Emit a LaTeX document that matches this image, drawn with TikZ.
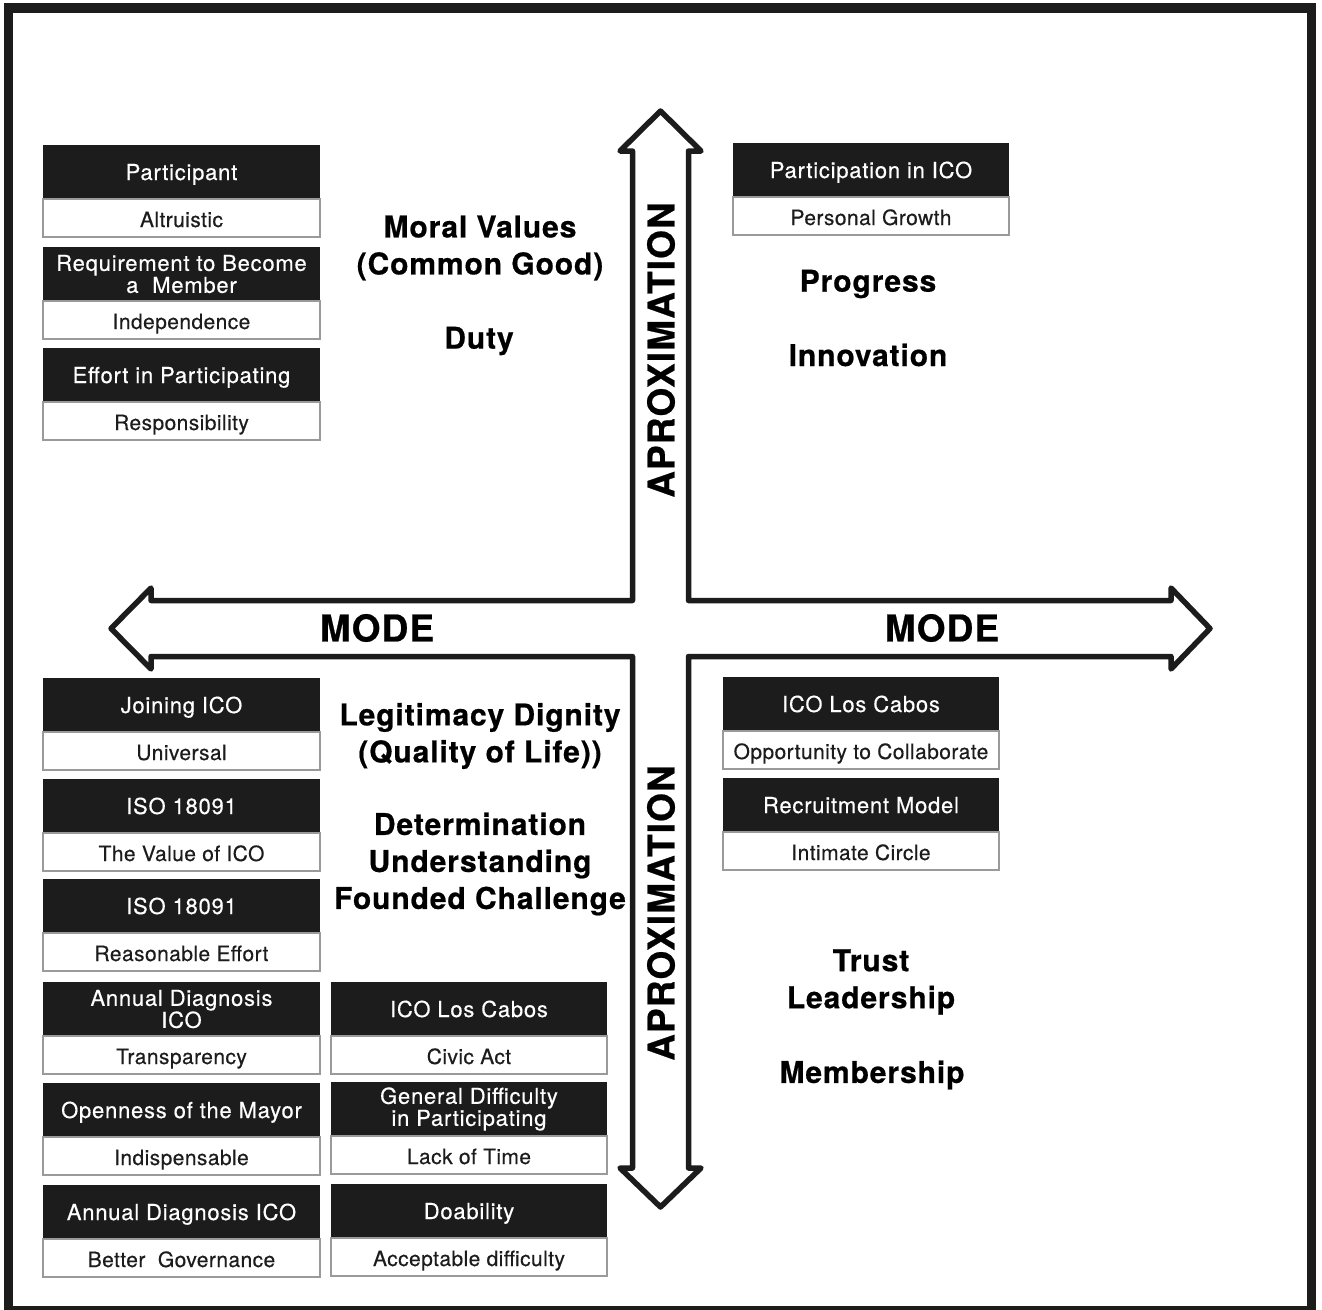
\documentclass[tikz,border=0pt]{standalone}
\usepackage{fontspec}
\setmainfont{TeX Gyre Heros}
\newfontfamily\bxfont[LetterSpace=2, FakeBold=0.4]{TeX Gyre Heros}
\newfontfamily\hdfont[LetterSpace=3.5, FakeBold=0.4]{TeX Gyre Heros}
\newfontfamily\lbfont[LetterSpace=3, FakeBold=0.6]{TeX Gyre Heros}
\definecolor{ink}{HTML}{1C1C1C}
\definecolor{edge}{HTML}{9A9A9A}
\tikzset{
  hdr/.style={fill=ink, draw=none, text=white, minimum height=54pt, inner sep=0pt, outer sep=0pt,
    align=center, font=\hdfont\fontsize{22}{22}\selectfont},
  hdrone/.style={hdr, text height=16pt, text depth=0pt},
  bodybox/.style={fill=white, draw=edge, line width=1.2pt, text=ink, minimum height=38pt,
    inner sep=0pt, outer sep=0pt, text height=18pt, text depth=0pt,
    font=\bxfont\fontsize{21}{22}\selectfont},
  lab/.style={text=black, align=center, inner sep=0pt, font=\lbfont\bfseries\fontsize{30}{37}\selectfont},
  axislab/.style={text=black, inner sep=0pt, font=\lbfont\bfseries\fontsize{37}{40}\selectfont},
  crossline/.style={draw=ink, line width=5.5pt, line join=round},
  frameline/.style={draw=ink, line width=9.5pt},
}
% [header style] name, x-left, y-top, width, header text, body text
\newcommand\catbox[7][hdrone]{%
  \node[#1, minimum width=#5pt, anchor=north west] (#2h) at (#3,#4) {#6};
  \node[bodybox, minimum width=#5pt, anchor=north] (#2b) at (#2h.south) {#7};
}
\begin{document}
\begin{tikzpicture}[x=1pt,y=-1pt]
\useasboundingbox (0,0) rectangle (1322,1309);
\fill[white] (0,0) rectangle (1322,1309);
% outer frame
\draw[frameline] (8.5,8) rectangle (1311.5,1311);
% cross-shaped double arrow
\draw[crossline] (660.5,111) -- (701,151) -- (688.5,151) -- (688.5,600.5) -- (1171,600.5)
  -- (1171,588) -- (1210,628.5) -- (1171,669) -- (1171,656.5) -- (688.5,656.5)
  -- (688.5,1168) -- (701,1168) -- (660.5,1207) -- (620,1168) -- (632.5,1168)
  -- (632.5,656.5) -- (151,656.5) -- (151,669) -- (111,628.5) -- (151,588)
  -- (151,600.5) -- (632.5,600.5) -- (632.5,151) -- (620,151) -- cycle;
% axis labels
\node[axislab] (modeL) at (377,628) {MODE};
\node[axislab] (modeR) at (942,628) {MODE};
\node[axislab, rotate=90] (aproxU) at (661,350) {APROXIMATION};
\node[axislab, rotate=90] (aproxD) at (661,913) {APROXIMATION};
% quadrant labels
\node[lab] (moral) at (480,248) {Moral Values\\(Common Good)};
\node[lab] (duty) at (479,341) {Duty};
\node[lab] (progress) at (868,284) {Progress};
\node[lab] (innov) at (868,355) {Innovation};
\node[lab] (legit) at (480,736) {Legitimacy Dignity\\(Quality of Life))};
\node[lab] (determ) at (480,864) {Determination\\Understanding\\Founded Challenge};
\node[lab] (trust) at (871,982) {Trust\\Leadership};
\node[lab] (member) at (872,1075) {Membership};
% upper-left boxes
\catbox{pa}{43}{145}{277}{Participant}{Altruistic}
\catbox[hdr]{pb}{43}{247}{277}{Requirement to Become\\a\ \ Member}{Independence}
\catbox{pc}{43}{348}{277}{Effort in Participating}{Responsibility}
% upper-right box
\catbox{ra}{733}{143}{276}{Participation in ICO}{Personal Growth}
% lower-left boxes
\catbox{la}{43}{678}{277}{Joining ICO}{Universal}
\catbox{lb}{43}{779}{277}{ISO 18091}{The Value of ICO}
\catbox{lc}{43}{879}{277}{ISO 18091}{Reasonable Effort}
\catbox[hdr]{ld}{43}{982}{277}{Annual Diagnosis\\ICO}{Transparency}
\catbox{le}{43}{1083}{277}{Openness of the Mayor}{Indispensable}
\catbox{lf}{43}{1185}{277}{Annual Diagnosis ICO}{Better\ \ Governance}
% lower-middle boxes
\catbox{ma}{331}{982}{276}{ICO Los Cabos}{Civic Act}
\catbox[hdr]{mb}{331}{1082}{276}{General Difficulty\\in Participating}{Lack of Time}
\catbox{mc}{331}{1184}{276}{Doability}{Acceptable difficulty}
% lower-right boxes
\catbox{qa}{723}{677}{276}{ICO Los Cabos}{Opportunity to Collaborate}
\catbox{qb}{723}{778}{276}{Recruitment Model}{Intimate Circle}
\end{tikzpicture}
\end{document}
